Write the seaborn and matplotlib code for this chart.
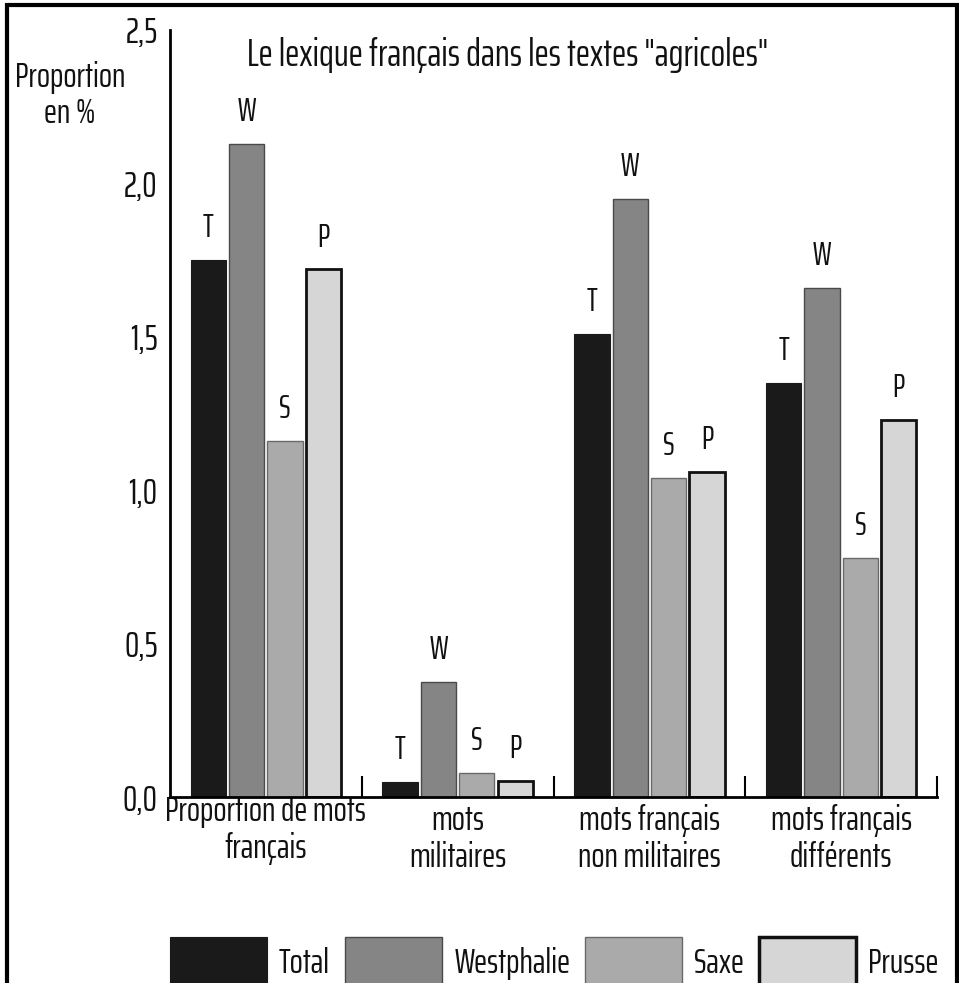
import numpy as np
import pandas as pd
import matplotlib
matplotlib.use('Agg')
import matplotlib.pyplot as plt
from matplotlib.patches import Rectangle
from matplotlib.ticker import FixedLocator
import seaborn as sns

# Data
categories = ["Proportion de mots\nfrançais", "mots\nmilitaires",
              "mots français\nnon militaires", "mots français\ndifférents"]
regions = ["Total", "Westphalie", "Saxe", "Prusse"]
letters = ["T", "W", "S", "P"]
total = [1.75, 0.05, 1.51, 1.35]
westphalie = [2.13, 0.375, 1.95, 1.66]
saxe = [1.16, 0.078, 1.04, 0.78]
prusse = [1.72, 0.052, 1.06, 1.23]
ytick_values = [0.0, 0.5, 1.0, 1.5, 2.0, 2.5]
ytick_labels = ["0,0", "0,5", "1,0", "1,5", "2,0", "2,5"]

colors = ["#1a1a1a", "#858585", "#aaaaaa", "#d6d6d6"]
edges = ["#1a1a1a", "#4a4a4a", "#6a6a6a", "#111111"]
edge_widths = [0.8, 1.0, 1.0, 2.0]

df = pd.DataFrame({
    "categorie": categories * len(regions),
    "region": np.repeat(regions, len(categories)),
    "valeur": total + westphalie + saxe + prusse,
})

sns.set_theme(style="white")
plt.rcParams["font.family"] = ["Saira ExtraCondensed", "Roboto Condensed", "DejaVu Sans"]
plt.rcParams["text.color"] = "#111111"

fig = plt.figure(figsize=(9.59, 9.83), dpi=100)
ax = fig.add_axes([0.1773, 0.1892, 0.7998, 0.7803])

sns.barplot(data=df, x="categorie", y="valeur", hue="region",
            palette=colors, width=0.8, gap=0.08, ax=ax, saturation=1)

for cont, ec, lw, letter in zip(ax.containers, edges, edge_widths, letters):
    for bar in cont:
        bar.set_edgecolor(ec)
        bar.set_linewidth(lw)
    ax.bar_label(cont, labels=[letter] * len(cont), padding=12, fontsize=23)

ax.set_xlim(-0.5, 3.5)
ax.set_ylim(0, 2.5)
ax.set_xlabel("")
ax.set_ylabel("")

ax.set_yticks(ytick_values)
ax.set_yticklabels(ytick_labels, fontsize=26)
ax.tick_params(axis="y", direction="in", length=13, width=1.5, pad=9, colors="#111111")
ax.tick_params(axis="x", which="major", length=0, pad=5, labelsize=25, colors="#111111")
ax.xaxis.set_minor_locator(FixedLocator([0.5, 1.5, 2.5, 3.5]))
ax.tick_params(axis="x", which="minor", direction="in", length=15, width=1.5,
               bottom=True, color="black")
ax.get_xticklabels()[0].set_y(0.012)
for lab in ax.get_xticklabels():
    lab.set_linespacing(1.15)

sns.despine(ax=ax)
for side in ["left", "bottom"]:
    ax.spines[side].set_color("black")
    ax.spines[side].set_linewidth(2)

ax.text(0.44, 0.967, 'Le lexique français dans les textes "agricoles"',
        transform=ax.transAxes, ha="center", va="center", fontsize=27.5)
fig.text(0.073, 0.903, "Proportion\nen %", ha="center", va="center",
         fontsize=25, linespacing=1.1)

handles, labels = ax.get_legend_handles_labels()
ax.legend_.remove()
leg = fig.legend(handles, labels, loc="upper left", bbox_to_anchor=(0.177, 0.0468),
                 ncol=4, frameon=False, fontsize=25, handlelength=2.8,
                 handleheight=1.8, handletextpad=0.35, columnspacing=0.42,
                 borderaxespad=0, borderpad=0)
for h, ec, lw in zip(leg.legend_handles, edges, edge_widths):
    h.set_edgecolor(ec)
    h.set_linewidth(lw + 0.5 if lw > 1 else lw)

fig.patches.append(Rectangle((0.0073, -0.05), 0.9907, 1.045, transform=fig.transFigure,
                             fill=False, linewidth=3, edgecolor="black"))

fig.savefig("out.png", dpi=100)
